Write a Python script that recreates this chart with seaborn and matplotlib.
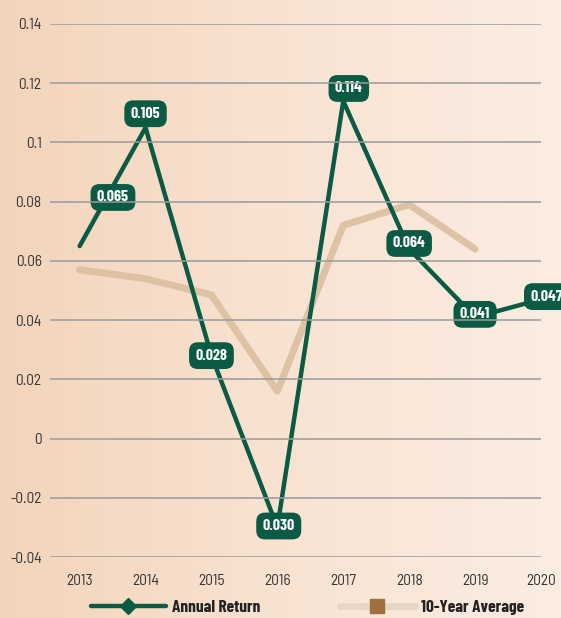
import numpy as np
import pandas as pd
import matplotlib.pyplot as plt
import matplotlib.colors as mcolors
from matplotlib.lines import Line2D
import seaborn as sns

# Chart data
years = [2013, 2014, 2015, 2016, 2017, 2018, 2019, 2020]
annual_return = [0.065, 0.105, 0.028, -0.030, 0.114, 0.064, 0.041, 0.047]
return_labels = ["0.065", "0.105", "0.028", "0.030", "0.114", "0.064", "0.041", "0.047"]
avg_years = [2013, 2014, 2015, 2016, 2017, 2018, 2019]
ten_year_avg = [0.057, 0.054, 0.0485, 0.016, 0.072, 0.079, 0.064]
y_ticks = [-0.04, -0.02, 0, 0.02, 0.04, 0.06, 0.08, 0.1, 0.12, 0.14]

# label nudges in points (x, y)
label_offsets = [(24, 35), (0, 10), (0, 0), (1, 1), (4, 9), (0, 4), (0, 2), (4, 2)]

green = "#0a5a44"
beige = "#d9bd9c"
brown = "#a0703f"

sns.set_theme(style="white")
plt.rcParams["font.family"] = ["Barlow Semi Condensed", "DejaVu Sans"]
label_font = ["Barlow Condensed", "DejaVu Sans"]

fig = plt.figure(figsize=(5.61, 6.18), dpi=100)

# warm wood-ish background
bg = fig.add_axes([0, 0, 1, 1], zorder=-10)
cmap = mcolors.LinearSegmentedColormap.from_list("wood", ["#f3d4bb", "#f8e3d2", "#fbede2"])
bg.imshow(np.linspace(0, 1, 256).reshape(1, -1), aspect="auto", cmap=cmap, extent=[0, 1, 0, 1])
bg.axis("off")

ax = fig.add_axes([0.0891, 0.0987, 0.8752, 0.8625])
ax.patch.set_alpha(0)

df_ret = pd.DataFrame({"year": years, "value": annual_return})
df_avg = pd.DataFrame({"year": avg_years, "value": ten_year_avg})

sns.lineplot(data=df_avg, x="year", y="value", ax=ax, color=beige, lw=5, alpha=0.85,
             zorder=1, clip_on=False)
sns.lineplot(data=df_ret, x="year", y="value", ax=ax, color=green, lw=3.2,
             zorder=2, clip_on=False)

for x, y, txt, (dx, dy) in zip(years, annual_return, return_labels, label_offsets):
    ax.annotate(txt, (x, y), xytext=(dx, dy), textcoords="offset points",
                ha="center", va="center", color="white", fontsize=11.5, fontweight="bold",
                family=label_font,
                bbox=dict(boxstyle="round,pad=0.4,rounding_size=0.55", fc=green, ec="none"),
                zorder=2.5, annotation_clip=False)

ax.set_xlim(2012.55, 2019.96)
ax.set_ylim(-0.04, 0.14)
ax.set_yticks(y_ticks)
ax.set_yticklabels([f"{v:g}" for v in y_ticks])
ax.set_xticks(years)
ax.set_xticklabels([str(y) for y in years])
ax.tick_params(axis="y", labelsize=11, colors="#333333", length=0, pad=6)
ax.tick_params(axis="x", labelsize=11, colors="#333333", length=0, pad=12)
ax.grid(axis="y", color="#9a9a9a", lw=1.1)
ax.yaxis.set_zorder(2.7)
ax.set_xlabel("")
ax.set_ylabel("")
sns.despine(ax=ax, left=True, bottom=True)

handles = [
    Line2D([], [], color=green, lw=3.2, marker="D", markersize=8, markevery=[1],
           markerfacecolor=green, markeredgecolor=green),
    Line2D([], [], color="#e6d6c4", lw=5, marker="s", markersize=10, markevery=[1],
           markerfacecolor=brown, markeredgecolor=brown),
]
for h in handles:
    h.set_data([0, 0.5, 1], [0, 0, 0])
leg = fig.legend(handles, ["Annual Return", "10-Year Average"], loc="lower center",
                 bbox_to_anchor=(0.548, -0.02), ncol=2, frameon=False, handlelength=4.3,
                 columnspacing=4.6, handletextpad=0.35,
                 prop={"family": label_font, "size": 12.5, "weight": "bold"})
for t in leg.get_texts():
    t.set_color("#222222")

fig.savefig("out.png", dpi=100)
